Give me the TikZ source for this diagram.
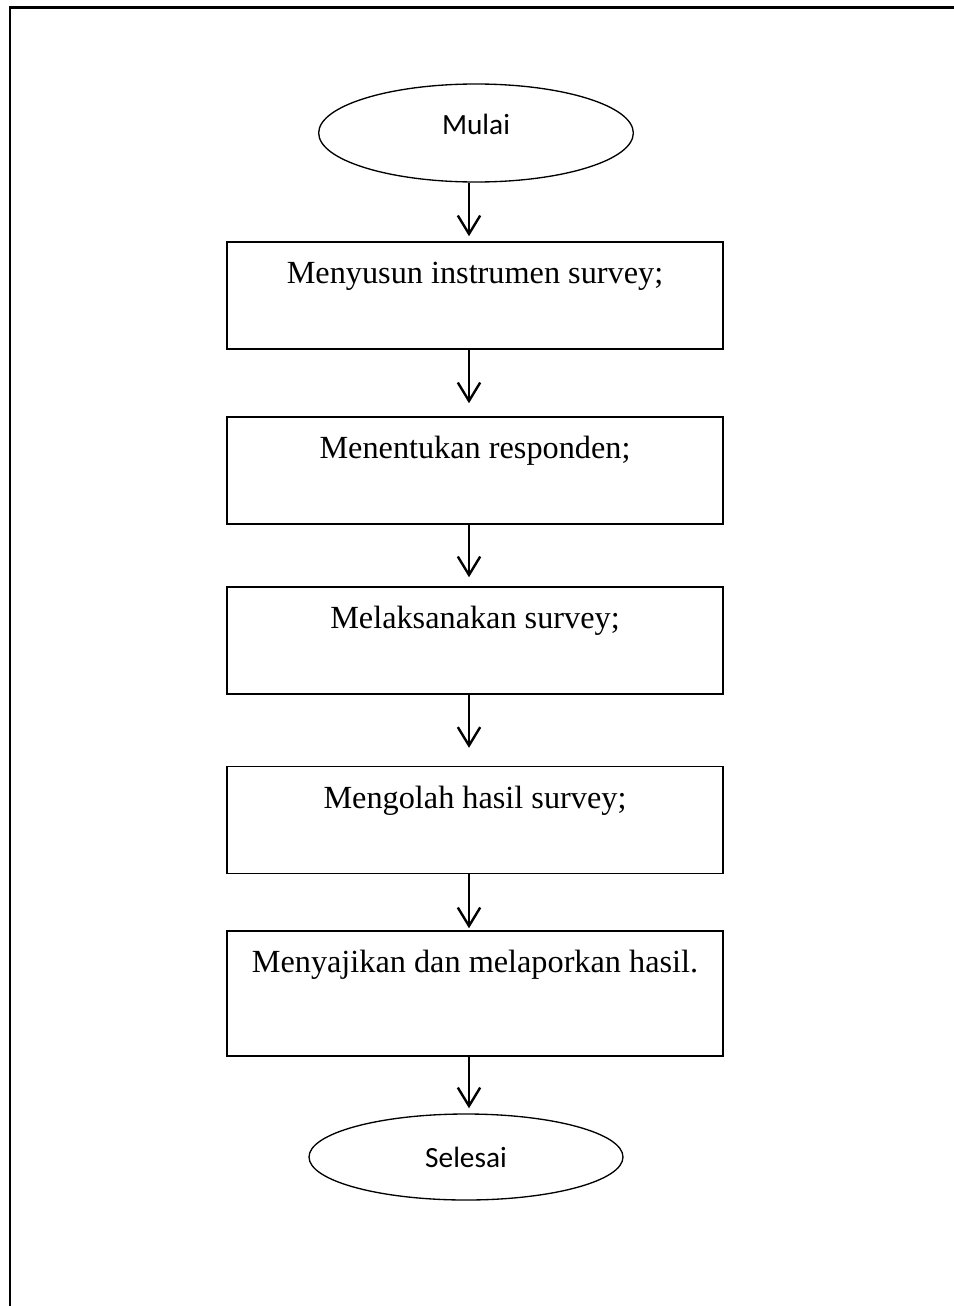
\documentclass[tikz,border=0pt]{standalone}
\usepackage{fontspec}
\setmainfont{Liberation Serif}
\newfontfamily\calibri{Carlito}
\usetikzlibrary{shapes.geometric,arrows.meta}

\begin{document}
\begin{tikzpicture}[x=0.375pt,y=-0.375pt,
  box/.style={draw,line width=0.55pt,minimum width=186pt,inner sep=0pt,
    text height=15.6pt,text depth=24.5pt,font=\fontsize{12.1}{14}\selectfont},
  term/.style={draw,ellipse,line width=0.5pt,inner sep=0pt,
    font=\calibri\fontsize{11}{13}\selectfont},
  arr/.style={line width=0.9pt,-{Straight Barb[length=6.9pt,width=8.4pt]}}]
  \useasboundingbox (0,0) rectangle (954,1306);
  %%%%%%%%%%%%%%%%%%%%%%%%%%%%%%%%
  \draw[line width=1.1pt] (10,1306)--(10,7.7)--(954,7.7);
  %%%%%%%%%%%%%%%%%%%%%%%%%%%%%%%%
  \node[term,minimum width=118pt,minimum height=36.75pt,text height=4pt,text depth=3.25pt] (mulai) at (476,133){Mulai};
  \node[box] (b1) at (475,295.5){Menyusun instrumen survey;};
  \node[box] (b2) at (475,470.5){Menentukan responden;};
  \node[box] (b3) at (475,640.5){Melaksanakan survey;};
  \node[box] (b4) at (475,820){Mengolah hasil survey;};
  \node[box,text depth=31.3pt] (b5) at (475,993.5){Menyajikan dan melaporkan hasil.};
  \node[term,minimum width=117.75pt,minimum height=32.25pt] (selesai) at (466,1157){Selesai};
  %%%%%%%%%%%%%%%%%%%%%%%%%%%%%
  \coordinate (ax) at (469,0);
  \draw[arr,shorten >=1.9pt] (mulai.south -| ax)--(b1.north -| ax);
  \draw[arr,shorten >=4.9pt] (b1.south -| ax)--(b2.north -| ax);
  \draw[arr,shorten >=3.4pt] (b2.south -| ax)--(b3.north -| ax);
  \draw[arr,shorten >=6.75pt] (b3.south -| ax)--(b4.north -| ax);
  \draw[arr,shorten >=0.75pt] (b4.south -| ax)--(b5.north -| ax);
  \draw[arr,shorten >=1.9pt] (b5.south -| ax)--(selesai.north -| ax);
\end{tikzpicture}
\end{document}
